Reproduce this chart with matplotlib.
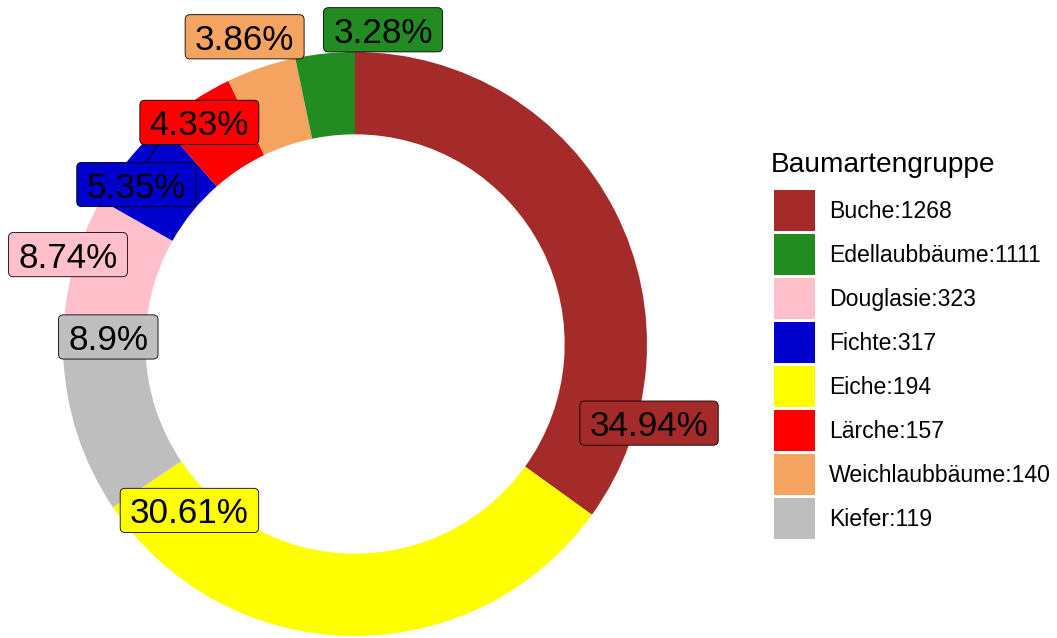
import matplotlib
matplotlib.use("Agg")
import matplotlib.pyplot as plt
from matplotlib.patches import Rectangle, BoxStyle
from matplotlib.transforms import offset_copy

# legend entries (names with counts, colours as in the key)
species = ["Buche", "Edellaubbäume", "Douglasie", "Fichte",
           "Eiche", "Lärche", "Weichlaubbäume", "Kiefer"]
counts = [1268, 1111, 323, 317, 194, 157, 140, 119]
key_colors = ["#A52A2A", "#228B22", "#FFC0CB", "#0000CD",
              "#FFFF00", "#FF0000", "#F4A460", "#BEBEBE"]

# ring segments, clockwise from 12 o'clock
ring_colors = ["#A52A2A", "#FFFF00", "#BEBEBE", "#FFC0CB",
               "#0000CD", "#FF0000", "#F4A460", "#228B22"]
pct = [34.94, 30.61, 8.9, 8.74, 5.35, 4.33, 3.86, 3.28]

# repelled label positions (ring radius = 1)
label_pos = [(1.007, -0.271), (-0.567, -0.570), (-0.845, 0.024), (-0.983, 0.306),
             (-0.749, 0.546), (-0.533, 0.759), (-0.378, 1.052), (0.096, 1.076)]

plt.rcParams["font.family"] = ["Liberation Sans", "DejaVu Sans"]

W, H = 1057, 638
R_PX = 292.0
CX, CY = 355, 344

fig = plt.figure(figsize=(W / 100, H / 100), dpi=100)
ax = fig.add_axes([0, 0, 1, 1])

ax.pie(counts, colors=ring_colors, startangle=90, counterclock=False,
       radius=1, wedgeprops=dict(width=1 - 0.718, linewidth=0))
ax.set_xlim(-CX / R_PX, (W - CX) / R_PX)
ax.set_ylim(-(H - CY) / R_PX, CY / R_PX)
ax.set_aspect("auto")
ax.axis("off")


def label_box(x0, y0, width, height, mutation_size):
    # wider horizontal padding than vertical, like geom_label
    padx = 0.28 * mutation_size
    pad_top = 0.26 * mutation_size
    pad_bot = 0.06 * mutation_size
    return BoxStyle.Round(pad=0, rounding_size=0.14)(
        x0 - padx, y0 - pad_bot, width + 2 * padx, height + pad_top + pad_bot,
        mutation_size)


# repel segment of the 5.35% label
ax.plot([-0.715, -0.660], [0.622, 0.701], color="black", lw=0.8, zorder=2)

trans = offset_copy(ax.transData, fig=fig, y=-2.5, units="points")
for p, c, (x, y) in zip(pct, ring_colors, label_pos):
    ax.text(x, y, f"{p:g}%", transform=trans, ha="center", va="center",
            fontsize=25.2, color="black", zorder=4,
            bbox=dict(boxstyle=label_box, facecolor=c, edgecolor="black",
                      linewidth=0.6))

# legend
fig.text(771 / W, 1 - 172 / H, "Baumartengruppe", fontsize=20.2,
         ha="left", va="baseline")
for i, (s, n, c) in enumerate(zip(species, counts, key_colors)):
    top = 190 + 44 * i
    fig.patches.append(Rectangle((774 / W, 1 - (top + 41) / H), 41 / W, 41 / H,
                                 transform=fig.transFigure, facecolor=c,
                                 edgecolor="none"))
    fig.text(829 / W, 1 - (top + 28.5) / H, f"{s}:{n}", fontsize=16.6,
             ha="left", va="baseline")

fig.savefig("out.png", dpi=100)
